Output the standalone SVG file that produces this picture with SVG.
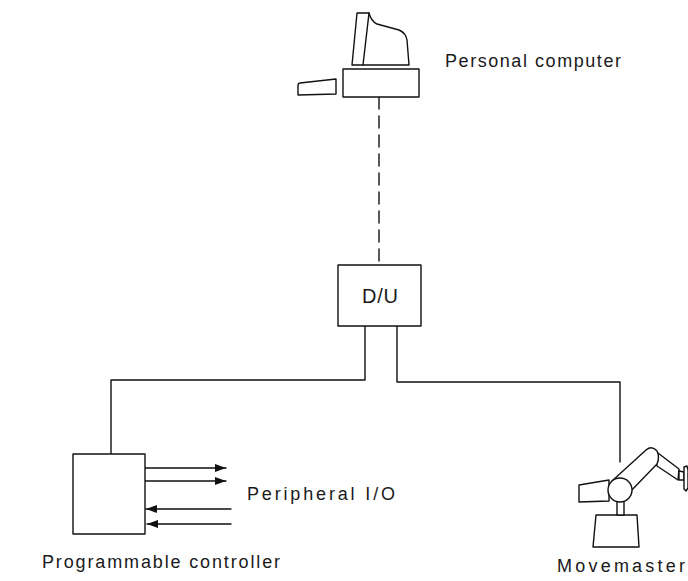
<svg xmlns="http://www.w3.org/2000/svg" width="688" height="581" viewBox="0 0 688 581">
  <defs>
    <style>
      .ln { fill: none; stroke: #111; stroke-width: 1.4; stroke-linejoin: round; stroke-linecap: round; }
      .sh { fill: #fff; stroke: #111; stroke-width: 1.4; stroke-linejoin: round; }
      .lbl { font-family: "Liberation Sans", Arial, sans-serif; font-size: 18px; fill: #1a1a1a; }
      .dash { stroke-dasharray: 12 7; }
    </style>
    <marker id="head" viewBox="0 0 11 8" refX="11" refY="4" markerWidth="11" markerHeight="8" markerUnits="userSpaceOnUse" orient="auto">
      <path d="M0,0 L11,4 L0,8 Z" fill="#111"/>
    </marker>
  </defs>

  <rect width="688" height="581" fill="#fff"/>

  <!-- links between the units -->
  <g id="connectors">
    <path class="ln dash" d="M379,97 V265"/>
    <path class="ln" d="M365,326 V380 H111 V454"/>
    <path class="ln" d="M397,326 V382 H620 V462"/>
    <!-- peripheral I/O lines -->
    <path class="ln" d="M145,468 H226" marker-end="url(#head)"/>
    <path class="ln" d="M145,481 H226" marker-end="url(#head)"/>
    <path class="ln" d="M231,509 H146" marker-end="url(#head)"/>
    <path class="ln" d="M231,524 H147" marker-end="url(#head)"/>
  </g>

  <!-- personal computer: monitor, base unit, keyboard -->
  <g id="personal-computer">
    <path class="sh" d="M352,65 L357,13 L369,13 Q371,21 377,24 L399,30 Q406,33 407,40 L409,65 Z"/>
    <path class="ln" d="M369,13 L363,65"/>
    <rect class="sh" x="343" y="69" width="76" height="28"/>
    <path class="sh" d="M300,83 L336,79 L336,94 L298,95 L298,86 Q298,83 300,83 Z"/>
    <text class="lbl" x="445" y="67" textLength="176" lengthAdjust="spacing">Personal computer</text>
  </g>

  <!-- D/U unit -->
  <g id="du">
    <rect class="sh" x="338" y="265" width="83" height="61"/>
    <text class="lbl" x="362" y="303" style="font-size:20px" textLength="36" lengthAdjust="spacing">D/U</text>
  </g>

  <!-- programmable controller -->
  <g id="programmable-controller">
    <rect class="sh" x="73" y="454" width="72" height="80"/>
    <text class="lbl" x="42" y="568" textLength="238" lengthAdjust="spacing">Programmable controller</text>
  </g>

  <g id="peripheral-io">
    <text class="lbl" x="247" y="500" textLength="148" lengthAdjust="spacing">Peripheral I/O</text>
  </g>

  <!-- Movemaster robot arm -->
  <g id="movemaster">
    <path class="sh" d="M596,515 L637,515 L639,547 L593,547 Z"/>
    <rect class="sh" x="617" y="498" width="7" height="17"/>
    <path class="sh" d="M609,480 L579,485 L579,502 L609,501 Z"/>
    <!-- forearm and wrist -->
    <path class="sh" d="M654,450 L679,469 L678,480 L657,466 Z"/>
    <path class="sh" d="M679,471 L684,472 L684,480 L679,480 Z"/>
    <path class="sh" d="M684,467 L687,466 L688,470 L688,488 L686,491 L684,489 Z"/>
    <!-- upper arm -->
    <path class="sh" d="M612,481 L646,450 Q652,445 657,451 Q660,457 657,464 L627,495 Z"/>
    <circle class="sh" cx="620" cy="490" r="12"/>
    <text class="lbl" x="557" y="572" textLength="128" lengthAdjust="spacing">Movemaster</text>
  </g>
</svg>
